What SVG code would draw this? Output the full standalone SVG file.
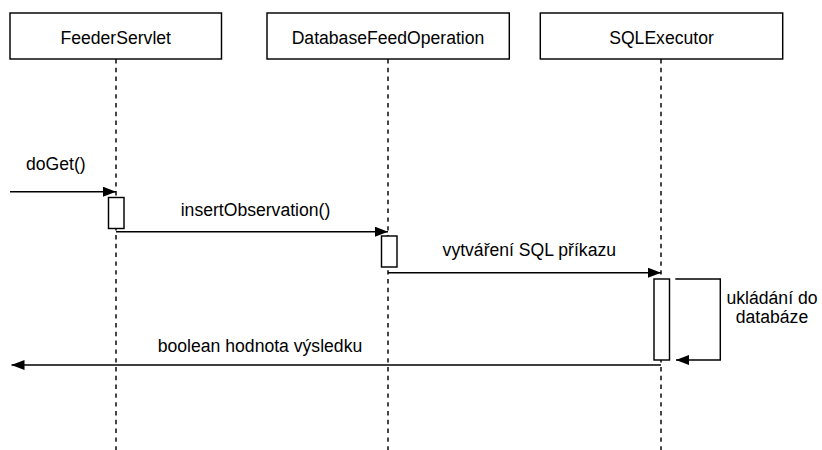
<svg xmlns="http://www.w3.org/2000/svg" width="822" height="450" viewBox="0 0 822 450">
  <defs>
    <style>
      .box { fill: #ffffff; stroke: #000000; stroke-width: 1.45; }
      .life { fill: none; stroke: #000000; stroke-width: 1.45; stroke-dasharray: 4.4 4.4; }
      .msg { fill: none; stroke: #000000; stroke-width: 1.45; }
      .lbl { font-family: "Liberation Sans", Arial, Helvetica, sans-serif; font-size: 17.6px; fill: #000000; }
      .mid { text-anchor: middle; }
    </style>
    <marker id="block" viewBox="0 0 13 10" refX="13" refY="5" markerWidth="13" markerHeight="10" markerUnits="userSpaceOnUse" orient="auto">
      <path d="M0,0 L13,5 L0,10 Z" fill="#000000"/>
    </marker>
  </defs>

  <!-- lifelines -->
  <g id="feederServlet">
    <line class="life" x1="116" y1="59" x2="116" y2="450"/>
    <rect class="box" x="10" y="13" width="211.5" height="46"/>
    <text class="lbl mid" x="115.75" y="43.5">FeederServlet</text>
    <rect class="box" x="108.5" y="197.5" width="15.5" height="31"/>
  </g>

  <g id="databaseFeedOperation">
    <line class="life" x1="388" y1="59" x2="388" y2="450"/>
    <rect class="box" x="267" y="13" width="242.3" height="46"/>
    <text class="lbl mid" x="388" y="43.5">DatabaseFeedOperation</text>
    <rect class="box" x="381.5" y="236" width="15.5" height="31"/>
  </g>

  <g id="sqlExecutor">
    <line class="life" x1="661" y1="59" x2="661" y2="450"/>
    <rect class="box" x="540.3" y="13" width="242.4" height="46"/>
    <text class="lbl mid" x="661.5" y="43.5">SQLExecutor</text>
    <rect class="box" x="654" y="279" width="15.5" height="81"/>
  </g>

  <!-- messages -->
  <g id="connectors">
    <line class="msg" x1="10" y1="191.7" x2="116" y2="191.7" marker-end="url(#block)"/>
    <line class="msg" x1="116" y1="231.7" x2="388" y2="231.7" marker-end="url(#block)"/>
    <line class="msg" x1="388" y1="272.7" x2="661" y2="272.7" marker-end="url(#block)"/>
    <polyline class="msg" points="675.3,279 720.3,279 720.3,360 676,360" marker-end="url(#block)"/>
    <line class="msg" x1="661" y1="365" x2="11.5" y2="365" marker-end="url(#block)"/>
  </g>

  <g id="labels">
    <text class="lbl" x="26" y="169.5">doGet()</text>
    <text class="lbl mid" x="255.5" y="216">insertObservation()</text>
    <text class="lbl mid" x="529.3" y="256">vytváření SQL příkazu</text>
    <text class="lbl mid" x="772" y="304">ukládání do</text>
    <text class="lbl mid" x="772" y="323.3">databáze</text>
    <text class="lbl mid" x="260" y="352">boolean hodnota výsledku</text>
  </g>
</svg>
